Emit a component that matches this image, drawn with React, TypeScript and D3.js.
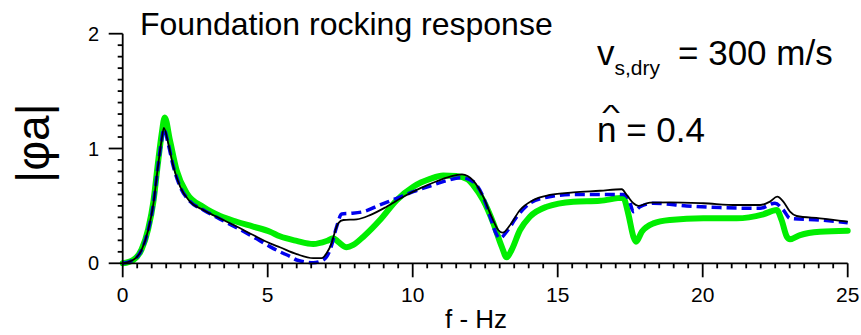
import React from "react";
import * as d3 from "d3";

const xTicks = [0, 5, 10, 15, 20, 25];
const yTicks = [0, 1, 2];

const blackSeries: [number, number][] = [
  [0, 0], [0.37, 0.03], [0.65, 0.115], [0.88, 0.29], [1.06, 0.52], [1.2, 0.81], [1.34, 1.07], [1.42, 1.18],
  [1.57, 1.045], [1.75, 0.84], [1.98, 0.667], [2.32, 0.537], [2.78, 0.464], [3.36, 0.39], [3.93, 0.32], [4.5, 0.246],
  [5.08, 0.174], [5.42, 0.14], [6.0, 0.08], [6.57, 0.045], [6.86, 0.045], [7.03, 0.087], [7.2, 0.174], [7.32, 0.275],
  [7.43, 0.348], [7.61, 0.377], [8.07, 0.383], [8.53, 0.42], [9.1, 0.493], [9.68, 0.58], [10.25, 0.653], [10.83, 0.715],
  [11.29, 0.755], [11.7, 0.775], [12.09, 0.72], [12.43, 0.58], [12.72, 0.406], [12.95, 0.29], [13.1, 0.267], [13.36, 0.334],
  [13.7, 0.464], [14.16, 0.551], [14.73, 0.595], [15.54, 0.618], [16.46, 0.632], [17.21, 0.645], [17.38, 0.595], [17.61, 0.523],
  [17.78, 0.5], [18.18, 0.528], [18.87, 0.531], [20.02, 0.523], [21.17, 0.508], [21.98, 0.508], [22.32, 0.537], [22.57, 0.58],
  [22.78, 0.537], [23.01, 0.45], [23.24, 0.412], [24.04, 0.392], [25, 0.362],
];

const blueSeries: [number, number][] = [
  [0, 0], [0.37, 0.03], [0.65, 0.115], [0.88, 0.29], [1.06, 0.52], [1.2, 0.81], [1.34, 1.07], [1.42, 1.17],
  [1.57, 1.04], [1.75, 0.84], [1.98, 0.667], [2.32, 0.54], [2.78, 0.465], [3.36, 0.385], [3.93, 0.31], [4.5, 0.23],
  [5.08, 0.145], [5.42, 0.1], [5.77, 0.06], [6.0, 0.029], [6.57, 0.005], [6.92, 0.03], [7.15, 0.116], [7.38, 0.32],
  [7.55, 0.43], [7.84, 0.435], [8.3, 0.45], [8.87, 0.508], [9.45, 0.566], [10.02, 0.624], [10.6, 0.673], [11.17, 0.72],
  [11.7, 0.745], [12.09, 0.71], [12.43, 0.58], [12.67, 0.406], [12.9, 0.247], [13.0, 0.218], [13.24, 0.275], [13.59, 0.406],
  [14.04, 0.523], [14.62, 0.575], [15.54, 0.6], [16.46, 0.6], [17.26, 0.6], [17.45, 0.56], [17.61, 0.45], [17.84, 0.493],
  [18.3, 0.523], [19.45, 0.5], [20.6, 0.485], [21.98, 0.479], [22.49, 0.523], [22.78, 0.464], [23.01, 0.392], [24.04, 0.377],
  [25, 0.354],
];

const greenSeries: [number, number][] = [
  [0, 0], [0.37, 0.03], [0.65, 0.12], [0.88, 0.3], [1.06, 0.54], [1.2, 0.84], [1.34, 1.12], [1.45, 1.27],
  [1.63, 1.07], [1.86, 0.81], [2.21, 0.61], [2.78, 0.49], [3.36, 0.412], [3.93, 0.362], [4.5, 0.32], [5.08, 0.275],
  [5.42, 0.235], [6.0, 0.195], [6.57, 0.168], [7.03, 0.194], [7.26, 0.218], [7.43, 0.188], [7.72, 0.14], [7.95, 0.16],
  [8.3, 0.232], [8.87, 0.377], [9.45, 0.551], [10.02, 0.667], [10.6, 0.735], [11.05, 0.765], [11.5, 0.76], [11.9, 0.73],
  [12.09, 0.68], [12.43, 0.55], [12.78, 0.35], [13.07, 0.145], [13.24, 0.052], [13.41, 0.116], [13.7, 0.29], [14.04, 0.406],
  [14.62, 0.493], [15.54, 0.537], [16.46, 0.545], [17.26, 0.57], [17.43, 0.435], [17.61, 0.232], [17.7, 0.188], [17.9, 0.275],
  [18.3, 0.348], [18.87, 0.377], [20.02, 0.392], [21.17, 0.392], [22.09, 0.427], [22.55, 0.464], [22.72, 0.377], [22.9, 0.232],
  [23.01, 0.209], [23.36, 0.246], [24.04, 0.275], [25, 0.284],
];

const FONT = "'Liberation Sans', Arial, sans-serif";

export default function App() {
  const x = d3.scaleLinear().domain([0, 25]).range([122.7, 847.7]);
  const y = d3.scaleLinear().domain([0, 2]).range([263.3, 33.7]);
  const line = d3
    .line<[number, number]>()
    .x((d) => x(d[0]))
    .y((d) => y(d[1]))
    .curve(d3.curveMonotoneX);

  const xMinor = d3.range(0, 25.001, 0.5).filter((v) => Math.abs(v % 5) > 1e-6);
  const yMinor = d3.range(0, 2.001, 0.1).filter((v) => Math.abs(Math.round(v * 10) % 10) !== 0);

  return (
    <svg width={861} height={335} style={{ position: "absolute", left: 0, top: 0, background: "#fff" }}>
      <rect x={0} y={0} width={861} height={335} fill="#fff" />
      {/* curves */}
      <path d={line(greenSeries) || ""} fill="none" stroke="#00ee00" strokeWidth={6} strokeLinejoin="round" strokeLinecap="round" />
      <path d={line(blueSeries) || ""} fill="none" stroke="#0000ee" strokeWidth={3.5} strokeDasharray="10,5" />
      <path d={line(blackSeries) || ""} fill="none" stroke="#000" strokeWidth={1.8} />

      {/* axes */}
      <g stroke="#000" strokeWidth={1.8}>
        <line x1={x(0)} x2={x(0)} y1={y(2)} y2={y(0)} />
        <line x1={x(0)} x2={x(25)} y1={y(0)} y2={y(0)} />
        {xTicks.map((t) => (
          <line key={"xt" + t} x1={x(t)} x2={x(t)} y1={y(0)} y2={y(0) + 14} />
        ))}
        {xMinor.map((t) => (
          <line key={"xm" + t} x1={x(t)} x2={x(t)} y1={y(0)} y2={y(0) + 5} />
        ))}
        {yTicks.map((t) => (
          <line key={"yt" + t} x1={x(0) - 14} x2={x(0)} y1={y(t)} y2={y(t)} />
        ))}
        {yMinor.map((t) => (
          <line key={"ym" + t} x1={x(0) - 5} x2={x(0)} y1={y(t)} y2={y(t)} />
        ))}
      </g>
      <g fontFamily={FONT} fill="#000">
        {xTicks.map((t) => (
          <text key={"xl" + t} x={x(t)} y={302} fontSize={21} textAnchor="middle">
            {t}
          </text>
        ))}
        {yTicks.map((t) => (
          <text key={"yl" + t} x={99} y={y(t) + 7} fontSize={20} textAnchor="end">
            {t}
          </text>
        ))}
        <text x={476} y={328} fontSize={26} textAnchor="middle">f - Hz</text>
        <text transform="translate(49,143) rotate(-90)" fontSize={46} textAnchor="middle">|φa|</text>
        <text x={140} y={35} fontSize={32}>Foundation rocking response</text>
        <text x={597} y={65} fontSize={35}>
          v
          <tspan fontSize={21} dy={10}>s,dry</tspan>
          <tspan x={678} dy={-10}>= 300 m/s</tspan>
        </text>
        <text x={597} y={142} fontSize={35}>n = 0.4</text>
        <text transform="translate(611,120) scale(1.2,0.7)" fontSize={32} textAnchor="middle">^</text>
      </g>
    </svg>
  );
}
